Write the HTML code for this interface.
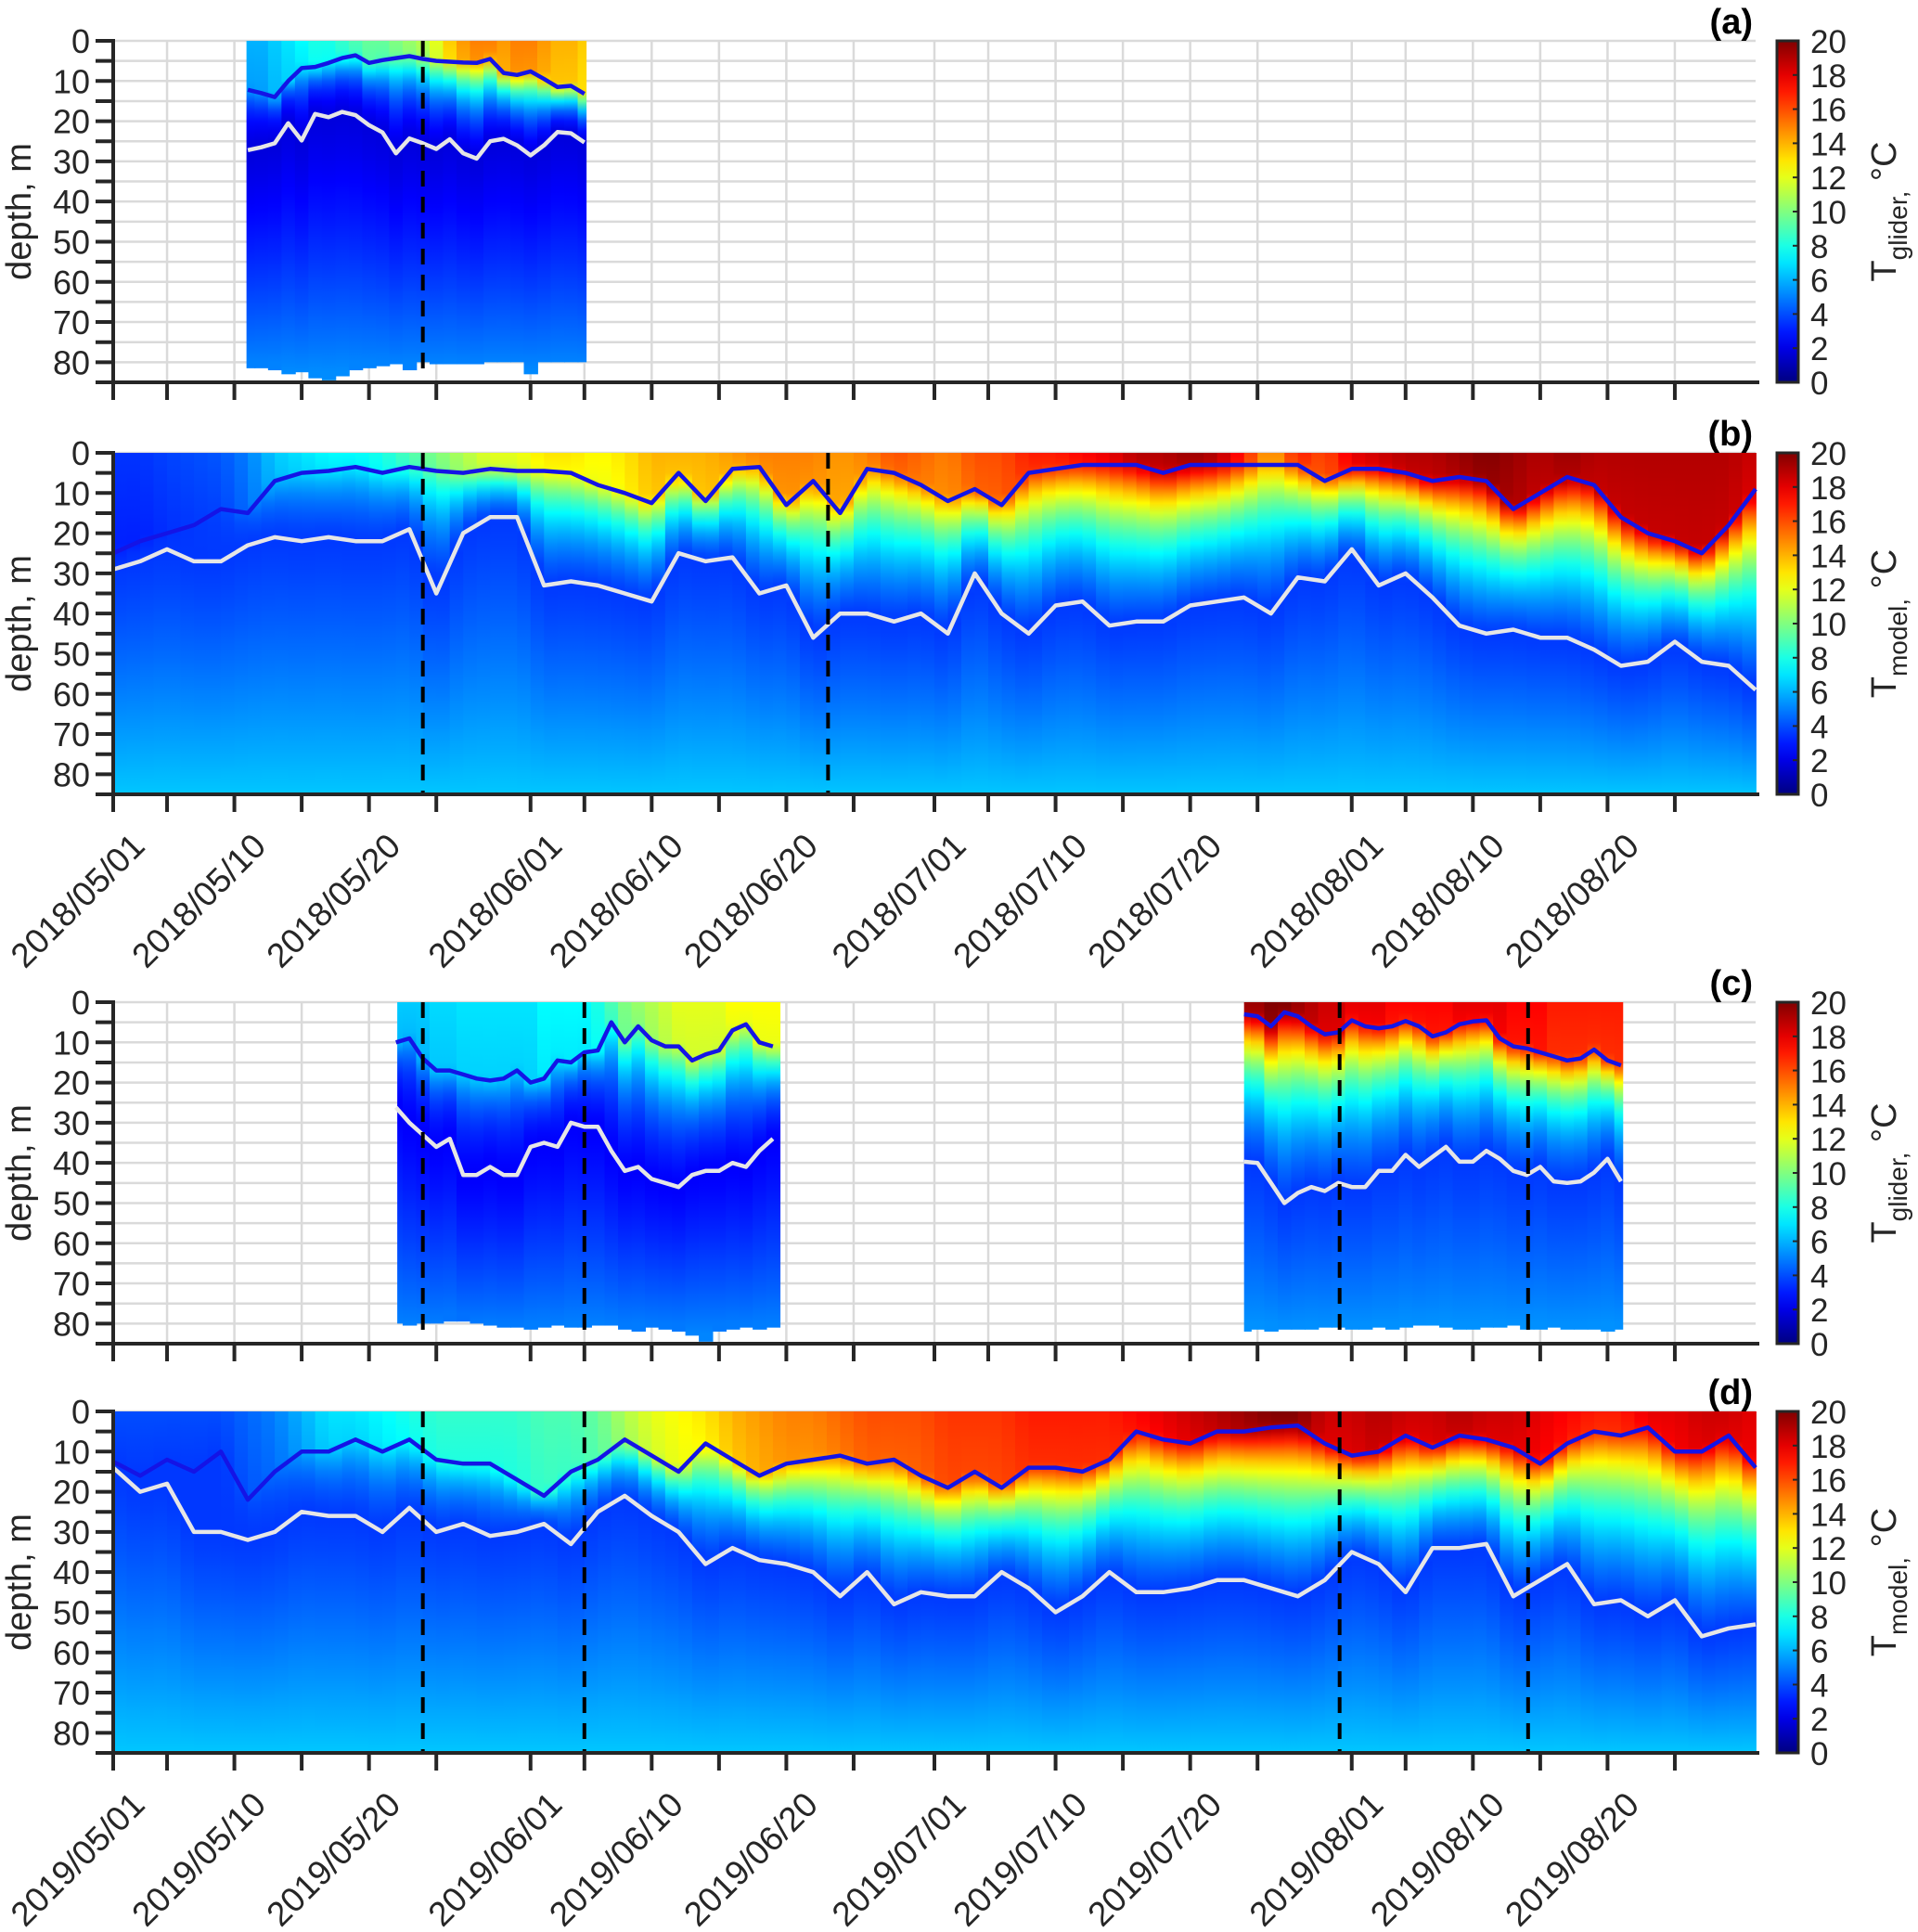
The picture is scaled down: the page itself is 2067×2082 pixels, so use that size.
<!DOCTYPE html>
<html><head><meta charset="utf-8"><title>Temperature sections</title>
<style>
html,body{margin:0;padding:0;background:#fff;}
svg{display:block;font-family:"Liberation Sans",Arial,sans-serif;}
</style></head>
<body>
<svg id="chart" width="2067" height="2082" viewBox="0 0 2067 2082">
<rect x="0" y="0" width="2067" height="2082" fill="#fff"/>
<defs id="defs"></defs>
</svg>
<script>
// ---------- data (days since 1 May) ----------
const bDays = [0,2,4,6,8,10,12,14,16,18,20,22,24,26,28,30,32,34,36,38,40,42,44,46,48,50,52,54,56,58,60,62,64,66,68,70,72,74,76,78,80,82,84,86,88,90,92,94,96,98,100,102,104,106,108,110,112,114,116,118,120,122];
const bMld = [25,22,20,18,14,15,7,5,4.5,3.5,5,3.5,4.5,5,4,4.5,4.5,5,8,10,12.5,5,12,4,3.5,13,7,15,4,5,8,12,9,13,5,4,3,3,3,5,3,3,3,3,3,7,4,4,5,7,6,7,14,10,6,8,16,20,22,25,18,9];
const bWhite = [29,27,24,27,27,23,21,22,21,22,22,19,35,20,16,16,33,32,33,35,37,25,27,26,35,33,46,40,40,42,40,45,30,40,45,38,37,43,42,42,38,37,36,40,31,32,24,33,30,36,43,45,44,46,46,49,53,52,47,52,53,59];
const bSst = [3.5,3.5,3.8,4,4.2,5,6.5,7,7.5,7.5,8,9,10,11,12,12,13,13,12.5,13,14,14,14,14.5,15,15,15,14.5,15,16,15.5,15,16,16,17,17,17.5,18,19,19,19.5,19,17,14,17,16,18,18.5,19,19,19.5,20,19.5,19,19.5,19,19,19,19,19,19,18.5];

const dDays = bDays;
const dMld = [12.5,16,12,15,10,22,15,10,10,7,10,7,12,13,13,17,21,15,12,7,11,15,8,12,16,13,12,11,13,12,16,19,15,19,14,14,15,12,5,7,8,5,5,4,3.5,8,11,10,6,9,6,7,9,13,8,5,6,4,10,10,6,14];
const dWhite = [14,20,18,30,30,32,30,25,26,26,30,24,30,28,31,30,28,33,25,21,26,30,38,34,37,38,40,46,40,48,45,46,46,40,44,50,46,40,45,45,44,42,42,44,46,42,35,38,45,34,34,33,46,42,38,48,47,51,47,56,54,53];
const dSst = [4,4,4,4,4,4.5,5,6,7,7,7.5,8,8.5,8.5,8.5,8.5,9,9,9.5,11,12,12.5,13,14,14.5,15,15,15.5,16,16,16,16.5,16.5,16.5,17,17,17,17,17.5,18,18.5,19,19.5,20,20,18.5,18.5,19,18.5,18.5,19,18.5,18.5,18,17.5,17,17,18,18,18.5,18.5,18];

const aDays = [10,11,12,13,14,15,16,17,18,19,20,21,22,23,24,25,26,27,28,29,30,31,32,33,34,35];
const aMld = [12.2,13,14,10,6.8,6.5,5.5,4.3,3.6,5.5,4.8,4.3,3.8,4.5,5,5.2,5.4,5.5,4.5,8,8.5,7.6,9.5,11.5,11.2,13.2];
const aWhite = [27.2,26.5,25.5,20.5,24.8,18.2,19,17.7,18.5,21,22.8,28,24.3,25.5,26.9,24.5,28,29.3,25,24.4,26,28.5,26,22.7,23,25.3];
const aSst = [6,6,6.5,7,7.5,8,8,8.5,9,9.5,9.5,10,10.5,11,12,13.5,14.5,15,15,14.5,15,15,14.5,14,14,13.5];
const aBottom = [81.5,81.5,82,83,82.5,84,84.5,83.5,82,81.5,81,80.5,82,80,80.5,80.5,80.5,80.5,80,80,80,83,80,80,80,80];

const c1Days = [21,22,23,24,25,26,27,28,29,30,31,32,33,34,35,36,37,38,39,40,41,42,43,44,45,46,47,48,49];
const c1Mld = [10,9,14,17,17,18,19,19.5,19,17,20,19,14.5,15,12.5,12,5,10,6,9.5,11,11,14.5,13,12,7,5.5,10,11];
const c1White = [26.2,30,33,36,34,43,43,41,43,43,36,35,36,30,31,31,37,42,41,44,45,46,43,42,42,40,41,37,34];
const c1Sst = [6.5,6.5,6.5,6.8,6.8,7,7,7,7,7,7,7.5,7.5,7.5,7.5,8,9,10,10.5,11,11.5,12,12,12,12,12.5,12.5,12.5,12.5];
const c1Bottom = [80,80.5,80,80,79.5,79.5,80,80.5,81,81,81.5,81,80.5,81,81,80.5,80.5,81.5,82,81,81.5,82,83,84.5,82,81.5,81,81.5,81];

const c2Days = [84,85,86,87,88,89,90,91,92,93,94,95,96,97,98,99,100,101,102,103,104,105,106,107,108,109,110,111,112];
const c2Mld = [3,3.5,6,2.5,3.5,6,8,7.5,4.5,6,6.5,6,4.7,6,8.5,7.5,5.5,4.8,4.5,9,11,11.5,12.5,13.5,14.5,14,11.8,14.5,15.7];
const c2White = [39.7,40,45,50,47.5,46,47,45,46,46,42,42,38,41,38.5,36,39.7,39.7,37,39,42,43,41,44.6,45,44.6,42.4,39,44.6];
const c2Sst = [19.5,19.5,20,20,19.5,19,18.5,18.5,18,18,18,17.5,17.5,17.5,17.5,17.5,18,18,18,18,17.5,17.5,17.5,17,17,17,17,17,17];
const c2Bottom = [82,81.5,82,81.5,81.5,81.5,81,81,81.5,81.5,81,81.5,81,80.5,80.5,81,81.5,81.5,81,81,80.5,81.5,81.5,81,81.5,81.5,81.5,82,81.5];

const dashDaysA = [23];
const dashDaysB = [23, 53.1];
const dashDaysCD = [23, 35, 91.1, 105.1];
const depthTicks = [0,10,20,30,40,50,60,70,80];
const cbarTicks = [0,2,4,6,8,10,12,14,16,18,20];
const monthStarts = [0,31,61,92];
const monthNames = ['05','06','07','08'];

// ---------- layout ----------
const svg = document.getElementById('chart');
const defs = document.getElementById('defs');
const SVGNS = svg.namespaceURI;
const X0 = 122, X1 = 1892, NDAYS = 122, PH = 368, ZMAX = 85;
const CBX = 1915, CBW = 23;
const TXT = '#262626';
function xs(d){ return X0 + d * (X1 - X0) / NDAYS; }
function ys(top, z){ return top + z * PH / ZMAX; }
function mk(tag, attrs, parent){
  const e = document.createElementNS(SVGNS, tag);
  for (const k in attrs) e.setAttribute(k, attrs[k]);
  (parent || svg).appendChild(e);
  return e;
}
function jet(t){
  const v = Math.max(0, Math.min(1, t / 20));
  const c = x => Math.round(255 * Math.max(0, Math.min(1, x)));
  return 'rgb(' + c(1.5 - Math.abs(4*v - 3)) + ',' + c(1.5 - Math.abs(4*v - 2)) + ',' + c(1.5 - Math.abs(4*v - 1)) + ')';
}
function interp(days, vals, d){
  if (d <= days[0]) return vals[0];
  for (let i = 1; i < days.length; i++){
    if (d <= days[i]){ const f = (d - days[i-1]) / (days[i] - days[i-1]); return vals[i-1] + f * (vals[i] - vals[i-1]); }
  }
  return vals[vals.length - 1];
}
function temp(z, sst, mld, wl, tmin, tbot, k){
  if (z <= mld) return sst - 0.4 * z / Math.max(mld, 1);
  const s = sst - 0.4;
  if (z <= wl){
    const f = (z - mld) / Math.max(wl - mld, 1);
    const e1 = Math.exp(-k);
    return tmin + (s - tmin) * (Math.exp(-k * f) - e1) / (1 - e1);
  }
  const g = (z - wl) / Math.max(ZMAX - wl, 1);
  return tmin + (tbot - tmin) * Math.pow(g, 1.2);
}
let gid = 0;
function column(g, xa, xb, top, sst, mld, wl, tmin, tbot, zb, k){
  const id = 'col' + (gid++);
  const lg = mk('linearGradient', {id: id, x1: 0, y1: 0, x2: 0, y2: 1}, defs);
  for (let z = 0; z <= zb + 0.01; z += 2.5){
    mk('stop', {offset: (z / zb).toFixed(4), 'stop-color': jet(temp(z, sst, mld, wl, tmin, tbot, k))}, lg);
  }
  const r = mk('rect', {x: xa.toFixed(2), y: top, width: (xb - xa + 0.9).toFixed(2), height: (zb * PH / ZMAX).toFixed(2), fill: 'url(#' + id + ')'}, g);
  
  
}
function line(g, days, vals, top, color, name){
  const pts = days.map((d, i) => xs(d).toFixed(1) + ',' + ys(top, vals[i]).toFixed(1)).join(' ');
  const p = mk('polyline', {points: pts, fill: 'none', stroke: color, 'stroke-width': 4.5, 'stroke-linejoin': 'round'}, g);
  
  
}
const tickDays = [];
monthStarts.forEach(m => [0,4,9,14,19,24].forEach(o => { if (m + o <= NDAYS) tickDays.push(m + o); }));

const cbg = mk('linearGradient', {id: 'jetbar', x1: 0, y1: 1, x2: 0, y2: 0}, defs);
for (let t = 0; t <= 20; t += 1){ mk('stop', {offset: t / 20, 'stop-color': jet(t)}, cbg); }

const panels = [
  {key: 'a', top: 44, label: '(a)', sub: 'glider', dates: null},
  {key: 'b', top: 488, label: '(b)', sub: 'model', dates: '2018'},
  {key: 'c', top: 1080, label: '(c)', sub: 'glider', dates: null},
  {key: 'd', top: 1521, label: '(d)', sub: 'model', dates: '2019'}
];

panels.forEach(P => {
  const top = P.top, bot = top + PH;
  const g = mk('g', {});
  
  
  const grid = mk('g', {stroke: '#dadada', 'stroke-width': 2.5}, g);
  
  
  for (let z = 5; z < ZMAX; z += 5){ mk('line', {x1: X0, x2: X1, y1: ys(top, z), y2: ys(top, z)}, grid); }
  mk('line', {x1: X0, x2: X1, y1: top, y2: top}, grid);
  tickDays.forEach(d => { if (d > 0) mk('line', {x1: xs(d), x2: xs(d), y1: top, y2: bot}, grid); });
  const hm = mk('g', {}, g);
  
  
  if (P.key === 'b' || P.key === 'd'){
    const D = P.key === 'b' ? [bDays, bSst, bMld, bWhite] : [dDays, dSst, dMld, dWhite];
    for (let d = 0; d < NDAYS; d++){
      const m = d + 0.5;
      column(hm, xs(d), xs(d + 1), top, interp(D[0], D[1], m), interp(D[0], D[2], m), interp(D[0], D[3], m), 3.6, 6.4, ZMAX, 1.7);
    }
    line(g, D[0], D[2], top, '#1414e6', 'mixed-layer-line-' + P.key);
    line(g, D[0], D[3], top, '#e6e6e6', 'thermocline-line-' + P.key);
  } else {
    const segs = P.key === 'a'
      ? [[aDays, aSst, aMld, aWhite, aBottom, 9.9, 35.1, 1.8, 5.4]]
      : [[c1Days, c1Sst, c1Mld, c1White, c1Bottom, 21.1, 49.5, 2.4, 5.3], [c2Days, c2Sst, c2Mld, c2White, c2Bottom, 84.0, 112.1, 3.6, 5.6]];
    segs.forEach(S => {
      S[0].forEach((d, i) => {
        const xa = xs(Math.max(d - 0.5, S[5])), xb = xs(Math.min(d + 0.5, S[6]));
        column(hm, xa, xb, top, S[1][i], S[2][i], S[3][i], S[7], S[8], S[4][i], 2.2);
      });
      line(g, S[0], S[2], top, '#1414e6', 'mixed-layer-line-' + P.key);
      line(g, S[0], S[3], top, '#e6e6e6', 'thermocline-line-' + P.key);
    });
  }
  const dd = P.key === 'a' ? dashDaysA : (P.key === 'b' ? dashDaysB : dashDaysCD);
  dd.forEach(d => {
    const yEnd = (P.key === 'a') ? ys(top, 83) : (P.key === 'c' ? ys(top, 84) : bot);
    const dl = mk('line', {x1: xs(d), x2: xs(d), y1: top, y2: yEnd, stroke: '#000', 'stroke-width': 4, 'stroke-dasharray': '17 11'}, g);
    
    
  });
  const ax = mk('g', {stroke: TXT, 'stroke-width': 4}, g);
  
  
  mk('line', {x1: X0, x2: X0, y1: top - 2, y2: bot}, ax);
  mk('line', {x1: 103, x2: X1 + 4, y1: bot, y2: bot}, ax);
  for (let z = 0; z <= ZMAX; z += 5){ mk('line', {x1: 103, x2: X0, y1: ys(top, z), y2: ys(top, z)}, ax); }
  tickDays.forEach(d => { mk('line', {x1: xs(d), x2: xs(d), y1: bot, y2: bot + 19}, ax); });
  depthTicks.forEach(z => {
    const t = mk('text', {x: 97, y: ys(top, z) + 13, 'text-anchor': 'end', 'font-size': 36, fill: TXT}, g);
    t.textContent = z;
    
    
  });
  const yl = mk('text', {transform: 'translate(33,' + (top + PH / 2) + ') rotate(-90)', 'text-anchor': 'middle', 'font-size': 38, fill: TXT}, g);
  yl.textContent = 'depth, m';
  
  
  const pl = mk('text', {x: 1889, y: top - 8, 'text-anchor': 'end', 'font-size': 38, 'font-weight': 'bold', fill: '#000'}, g);
  pl.textContent = P.label;
  
  
  const cb = mk('rect', {x: CBX, y: top, width: CBW, height: PH, fill: 'url(#jetbar)', stroke: TXT, 'stroke-width': 3}, g);
  
  
  cbarTicks.forEach(v => {
    const y = top + PH - v * PH / 20;
    mk('line', {x1: CBX + CBW - 6, x2: CBX + CBW, y1: y, y2: y, stroke: TXT, 'stroke-width': 2}, g);
    const t = mk('text', {x: CBX + CBW + 13, y: y + 13, 'font-size': 35, fill: TXT}, g);
    t.textContent = v;
    
    
  });
  const ct = mk('text', {transform: 'translate(2043,' + (top + PH / 2) + ') rotate(-90)', 'text-anchor': 'middle', 'font-size': 38, fill: TXT}, g);
  
  
  ct.appendChild(document.createTextNode('T'));
  const s1 = mk('tspan', {'font-size': 28, dy: 12}, ct);
  s1.textContent = P.sub + ',';
  const s2 = mk('tspan', {dy: -12}, ct);
  s2.textContent = ' \u00B0C';
  if (P.dates){
    monthStarts.forEach((m, mi) => [1, 10, 20].forEach(day => {
      const d = m + day - 1;
      const ex = xs(d) + 36, ey = bot + 58;
      const t = mk('text', {transform: 'translate(' + ex.toFixed(1) + ',' + ey + ') rotate(-45)', 'text-anchor': 'end', 'font-size': 37, fill: TXT}, g);
      t.textContent = P.dates + '/' + monthNames[mi] + '/' + (day < 10 ? '0' + day : day);
      
      
    }));
  }
});
</script>
</body></html>
